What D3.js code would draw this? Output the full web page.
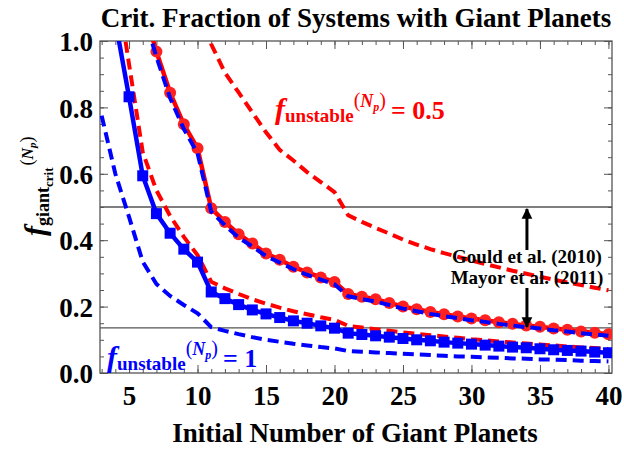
<!DOCTYPE html>
<html>
<head>
<meta charset="utf-8">
<script src="https://cdn.jsdelivr.net/npm/d3@7"></script>
<style>
  body { margin: 0; background: #fff; }
  svg text { font-family: "Liberation Serif", "Times New Roman", serif; font-weight: bold; }
</style>
</head>
<body>
<svg id="chart" width="624" height="453"></svg>
<script>
// Data (N = initial number of giant planets)
var nRedCirc = d3.range(6, 41);
var redCirc = [1.11, 0.968, 0.844, 0.749, 0.677, 0.496, 0.455, 0.418, 0.39, 0.36, 0.341, 0.32, 0.303, 0.288, 0.274,
  0.238, 0.23, 0.222, 0.211, 0.2, 0.192, 0.184, 0.177, 0.17, 0.164, 0.159, 0.153, 0.148, 0.143, 0.139,
  0.134, 0.13, 0.125, 0.121, 0.117];
var nBlueDashHi = d3.range(6, 41);
var blueDashHi = [1.09, 0.952, 0.828, 0.735, 0.662, 0.486, 0.445, 0.408, 0.381, 0.352, 0.333, 0.313, 0.296, 0.281, 0.267,
  0.231, 0.223, 0.215, 0.205, 0.194, 0.186, 0.178, 0.171, 0.165, 0.159, 0.154, 0.148, 0.143, 0.138, 0.134,
  0.129, 0.125, 0.12, 0.116, 0.112];
var nRedDashHi = d3.range(10, 41);
var redDashHi = [1.4, 0.99, 0.905, 0.845, 0.785, 0.725, 0.672, 0.64, 0.605, 0.575, 0.545,
  0.475, 0.455, 0.437, 0.42, 0.402, 0.387, 0.373, 0.361, 0.35, 0.339, 0.328, 0.318, 0.308, 0.299, 0.29,
  0.281, 0.273, 0.265, 0.257, 0.249];
var nRedDashLo = d3.range(4, 41);
var redDashLo = [1.2, 0.93, 0.665, 0.55, 0.473, 0.41, 0.355, 0.275, 0.255, 0.238, 0.222, 0.209, 0.197, 0.186, 0.177,
  0.168, 0.16, 0.142, 0.137, 0.132, 0.127, 0.122, 0.118, 0.114, 0.11, 0.106, 0.102, 0.099, 0.095, 0.092,
  0.089, 0.086, 0.083, 0.08, 0.077, 0.075, 0.072];
var nBlueSq = d3.range(4, 41);
var blueSq = [1.06, 0.832, 0.594, 0.48, 0.421, 0.373, 0.334, 0.244, 0.224, 0.206, 0.19, 0.178, 0.167, 0.157, 0.15,
  0.142, 0.135, 0.12, 0.116, 0.112, 0.108, 0.104, 0.1, 0.097, 0.093, 0.09, 0.087, 0.084, 0.081, 0.078,
  0.076, 0.073, 0.07, 0.068, 0.066, 0.063, 0.061];
var nBlueDashLo = d3.range(3, 41);
var blueDashLo = [0.775, 0.6, 0.47, 0.335, 0.268, 0.232, 0.205, 0.18, 0.138, 0.127, 0.117, 0.108, 0.1, 0.094, 0.088,
  0.083, 0.078, 0.074, 0.066, 0.064, 0.062, 0.06, 0.058, 0.056, 0.054, 0.052, 0.05, 0.049, 0.047, 0.046,
  0.044, 0.043, 0.041, 0.04, 0.039, 0.037, 0.036, 0.035];
var refLevels = [0.5, 0.136]; // Gould et al. (2010), Mayor et al. (2011)
var xMajor = [5, 10, 15, 20, 25, 30, 35, 40];
var yMajor = [0, 0.2, 0.4, 0.6, 0.8, 1.0];

var svg = d3.select("#chart");
var pLeft = 100, pRight = 612, pTop = 41, pBottom = 373;

var x = d3.scaleLinear().domain([2.88, 40.26]).range([pLeft, pRight]);
var y = d3.scaleLinear().domain([0, 1]).range([pBottom, pTop]);

function pts(ns, vs) { return ns.map(function (n, i) { return [n, vs[i]]; }); }

svg.append("clipPath").attr("id", "plotclip")
  .append("rect").attr("x", pLeft).attr("y", pTop).attr("width", pRight - pLeft).attr("height", pBottom - pTop);

// title
svg.append("text").attr("x", 356).attr("y", 27).attr("text-anchor", "middle")
  .attr("font-size", 27).text("Crit. Fraction of Systems with Giant Planets");

// reference levels
svg.selectAll("line.ref").data(refLevels).enter().append("line")
  .attr("class", "ref")
  .attr("x1", pLeft).attr("x2", pRight)
  .attr("y1", function (d) { return y(d); }).attr("y2", function (d) { return y(d); })
  .attr("stroke", "#555").attr("stroke-width", 1.3);

// axes (frame with inward ticks)
function styleAxis(g) {
  g.select(".domain").remove();
  g.selectAll(".tick line").attr("stroke", "#555").attr("stroke-width", 1);
  g.selectAll("text").attr("font-size", 27).attr("fill", "#000")
    .style("font-family", "Liberation Serif, serif").style("font-weight", "bold");
}
var minorX = d3.range(3, 41, 1);
var minorY = d3.range(0, 1.001, 0.05);

svg.append("g").attr("transform", "translate(0," + pBottom + ")")
  .call(d3.axisBottom(x).tickValues(minorX).tickSize(-4).tickFormat("")).call(styleAxis);
svg.append("g").attr("transform", "translate(0," + pBottom + ")")
  .call(d3.axisBottom(x).tickValues(xMajor).tickSize(-8).tickPadding(13).tickFormat(d3.format("d"))).call(styleAxis);
svg.append("g").attr("transform", "translate(0," + pTop + ")")
  .call(d3.axisTop(x).tickValues(minorX).tickSize(-4).tickFormat("")).call(styleAxis);
svg.append("g").attr("transform", "translate(0," + pTop + ")")
  .call(d3.axisTop(x).tickValues(xMajor).tickSize(-8).tickFormat("")).call(styleAxis);
svg.append("g").attr("transform", "translate(" + pLeft + ",0)")
  .call(d3.axisLeft(y).tickValues(minorY).tickSize(-4).tickFormat("")).call(styleAxis);
var yl = svg.append("g").attr("transform", "translate(" + pLeft + ",0)")
  .call(d3.axisLeft(y).tickValues(yMajor).tickSize(-8).tickPadding(7).tickFormat(d3.format(".1f"))).call(styleAxis);
yl.selectAll("text").attr("dy", "0.36em");
svg.append("g").attr("transform", "translate(" + pRight + ",0)")
  .call(d3.axisRight(y).tickValues(minorY).tickSize(-4).tickFormat("")).call(styleAxis);
svg.append("g").attr("transform", "translate(" + pRight + ",0)")
  .call(d3.axisRight(y).tickValues(yMajor).tickSize(-8).tickFormat("")).call(styleAxis);

svg.append("rect").attr("x", pLeft).attr("y", pTop).attr("width", pRight - pLeft).attr("height", pBottom - pTop)
  .attr("fill", "none").attr("stroke", "#555").attr("stroke-width", 1.3);

// curves
var plot = svg.append("g").attr("clip-path", "url(#plotclip)");
var line = d3.line().x(function (d) { return x(d[0]); }).y(function (d) { return y(d[1]); });

function dashed(data, color) {
  plot.append("path").datum(data).attr("d", line)
    .attr("fill", "none").attr("stroke", color).attr("stroke-width", 4)
    .attr("stroke-dasharray", "11,6");
}
function solid(data, color) {
  plot.append("path").datum(data).attr("d", line)
    .attr("fill", "none").attr("stroke", color).attr("stroke-width", 4.5);
}

dashed(pts(nBlueDashLo, blueDashLo), "#0000ff");
dashed(pts(nRedDashLo, redDashLo), "#ff0000");
var sq = pts(nBlueSq, blueSq);
solid(sq, "#0000ff");
plot.selectAll("rect.sq").data(sq).enter().append("rect")
  .attr("class", "sq")
  .attr("x", function (d) { return x(d[0]) - 5.5; })
  .attr("y", function (d) { return y(d[1]) - 5.5; })
  .attr("width", 11).attr("height", 11).attr("fill", "#0000ff");
dashed(pts(nRedDashHi, redDashHi), "#ff0000");
var rc = pts(nRedCirc, redCirc);
solid(rc, "#ff0000");
plot.selectAll("circle.rc").data(rc).enter().append("circle")
  .attr("class", "rc")
  .attr("cx", function (d) { return x(d[0]); })
  .attr("cy", function (d) { return y(d[1]); })
  .attr("r", 6).attr("fill", "#ff2020");
dashed(pts(nBlueDashHi, blueDashHi), "#0000ff");

// arrows to reference levels
svg.append("defs").append("marker").attr("id", "arrow")
  .attr("viewBox", "0 0 10 10").attr("refX", 9).attr("refY", 5)
  .attr("markerWidth", 3.6).attr("markerHeight", 4.6).attr("orient", "auto")
  .append("path").attr("d", "M0,0 L10,5 L0,10 z").attr("fill", "#000");
svg.append("line").attr("x1", x(34.05)).attr("x2", x(34.05)).attr("y1", 250).attr("y2", y(0.5) + 2)
  .attr("stroke", "#000").attr("stroke-width", 3).attr("marker-end", "url(#arrow)");
svg.append("line").attr("x1", x(34.05)).attr("x2", x(34.05)).attr("y1", 288).attr("y2", y(0.136) - 1)
  .attr("stroke", "#000").attr("stroke-width", 3).attr("marker-end", "url(#arrow)");

svg.append("text").attr("x", 527).attr("y", 263).attr("text-anchor", "middle").attr("font-size", 19)
  .text("Gould et al. (2010)");
svg.append("text").attr("x", 527).attr("y", 284).attr("text-anchor", "middle").attr("font-size", 19)
  .text("Mayor et al. (2011)");

// f_unstable labels
function fLabel(xp, yp, color, val, s) {
  var t = svg.append("text").attr("x", xp).attr("y", yp).attr("fill", color);
  t.append("tspan").attr("font-style", "italic").attr("font-size", 30 * s).text("f");
  t.append("tspan").attr("font-size", 19 * s).attr("dy", 3 * s).text("unstable");
  t.append("tspan").attr("font-size", 20 * s).attr("dy", -15 * s).attr("font-weight", "normal").text("(");
  t.append("tspan").attr("font-size", 18 * s).attr("font-style", "italic").text("N");
  t.append("tspan").attr("font-size", 12 * s).attr("font-style", "italic").attr("dy", 4 * s).text("p");
  t.append("tspan").attr("font-size", 20 * s).attr("dy", -4 * s).attr("font-weight", "normal").text(")");
  t.append("tspan").attr("font-size", 26 * s).attr("dy", 12 * s).attr("dx", 5 * s).text("= " + val);
}
fLabel(275, 119, "#ff0000", "0.5", 1);
fLabel(107, 367, "#0000ff", "1", 1.0);

// y axis title
var yt = svg.append("text").attr("transform", "translate(45,236) rotate(-90)");
yt.append("tspan").attr("font-style", "italic").attr("font-size", 30).text("f");
yt.append("tspan").attr("font-size", 18).attr("dy", 4).text("giant");
yt.append("tspan").attr("font-size", 13).attr("dy", 4).text("crit");
yt.append("tspan").attr("font-size", 18).attr("dy", -20).attr("dx", 2).attr("font-weight", "normal").text("(");
yt.append("tspan").attr("font-size", 16).attr("font-style", "italic").text("N");
yt.append("tspan").attr("font-size", 11).attr("font-style", "italic").attr("dy", 3).text("p");
yt.append("tspan").attr("font-size", 18).attr("dy", -3).attr("font-weight", "normal").text(")");

// x axis title
svg.append("text").attr("x", 355).attr("y", 442).attr("text-anchor", "middle").attr("font-size", 27)
  .text("Initial Number of Giant Planets");
</script>
</body>
</html>
